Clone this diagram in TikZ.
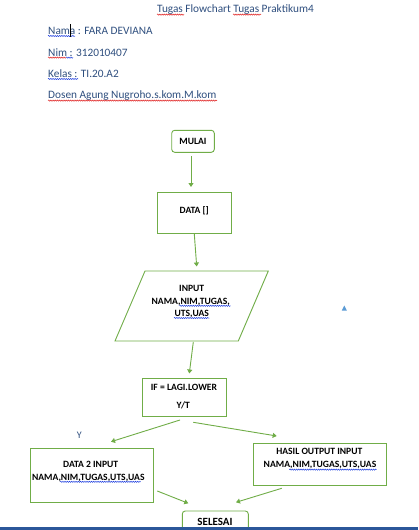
\documentclass[tikz,border=0pt]{standalone}
\usepackage{fontspec}
\setmainfont{Carlito}
\usetikzlibrary{arrows.meta,decorations.pathmorphing}

\definecolor{flowgreen}{HTML}{70AD47}
\definecolor{headblue}{HTML}{2F4F7F}
\definecolor{spellred}{HTML}{E02020}
\definecolor{gramblue}{HTML}{2040E0}
\definecolor{barblue}{HTML}{2B579A}
\definecolor{markblue}{HTML}{5B9BD5}

\tikzset{
  headtext/.style={anchor=base west, inner sep=0pt, text=headblue, font=\fontsize{11.3}{13}\selectfont},
  boxtext/.style={anchor=base, inner sep=0pt, text=black, font=\bfseries\fontsize{9.6}{11}\selectfont},
  flowbox/.style={draw=flowgreen, line width=0.9pt, fill=white, inner sep=0pt},
  termbox/.style={flowbox, rounded corners=3pt},
  flowarrow/.style={draw=flowgreen, line width=0.9pt, -{Triangle[width=5pt,length=4pt]}},
  squiggle/.style={line width=0.5pt, decorate, decoration={snake, segment length=2.2pt, amplitude=0.6pt}},
  redsq/.style={squiggle, draw=spellred},
  bluesq/.style={squiggle, draw=gramblue}
}

\begin{document}
\begin{tikzpicture}[x=1pt,y=-1pt]
\useasboundingbox (0,0) rectangle (418,530);
\fill[white] (0,0) rectangle (418,530);

% heading lines
\node[headtext] (title) at (157,12.8) {Tugas Flowchart Tugas Praktikum4};
\node[headtext] (nama)  at (48,34.4) {Nama : FARA DEVIANA};
\node[headtext] (nim)   at (48,56)   {Nim : 312010407};
\node[headtext] (kelas) at (48,77.2) {Kelas : TI.20.A2};
\node[headtext] (dosen) at (48,98.2) {Dosen Agung Nugroho.s.kom.M.kom};

% proofing underlines
\draw[redsq]  (157,14.6) -- (184,14.6);
\draw[redsq]  (233,14.6) -- (261,14.6);
\draw[bluesq] (48,36) -- (75,36);
\draw[redsq]  (48,57.6) -- (66,57.6);
\draw[bluesq] (66,57.6) -- (73,57.6);
\draw[bluesq] (48,79) -- (78,79);
\draw[redsq]  (48,100.6) -- (217,100.6);

% text cursor
\draw[black, line width=0.6pt] (70,24) -- (70,37);

% flowchart boxes
\node[termbox, minimum width=42.6pt, minimum height=22pt] (mulai) at (193,141.3) {};
\node[boxtext] at (193,144.6) {MULAI};

\node[flowbox, minimum width=74pt, minimum height=41.3pt] (data) at (194.3,212.7) {};
\node[boxtext] at (194.3,213.8) {DATA []};

\coordinate (inTL) at (145,271);
\coordinate (inTR) at (268.3,271);
\coordinate (inBR) at (238.3,341);
\coordinate (inBL) at (115,341);
\draw[flowgreen, line width=0.9pt] (inTL) -- (inTR) -- (inBR) -- (inBL) -- cycle;
\node[boxtext] (input) at (191.7,291) {INPUT};
\node[boxtext] at (190.7,304.4) {NAMA,NIM,TUGAS,};
\node[boxtext] at (191.7,316.6) {UTS,UAS};
\draw[bluesq] (179.3,305.8) -- (230.7,305.8);
\draw[bluesq] (174,318) -- (209.3,318);

\node[flowbox, minimum width=84.4pt, minimum height=38pt] (ifbox) at (184.5,397) {};
\node[boxtext] at (184,390.6) {IF = LAGI.LOWER};
\node[boxtext] at (183.3,408.4) {Y/T};

\node[flowbox, minimum width=122.6pt, minimum height=54pt] (data2) at (92,475.3) {};
\node[boxtext] at (90.7,467.6) {DATA 2 INPUT};
\node[boxtext] at (88.3,480) {NAMA,NIM,TUGAS,UTS,UAS};
\draw[bluesq] (60,481.8) -- (140.7,481.8);

\node[flowbox, minimum width=133.4pt, minimum height=41.7pt] (hasil) at (320,464.2) {};
\node[boxtext] at (319.3,454.4) {HASIL OUTPUT INPUT};
\node[boxtext] at (320,467.6) {NAMA,NIM,TUGAS,UTS,UAS};
\draw[bluesq] (289.3,469.6) -- (376.7,469.6);

\node[termbox, minimum width=66pt, minimum height=30pt] (selesai) at (215.3,526) {};
\node[boxtext, font=\bfseries\fontsize{11}{13}\selectfont] at (215,525.4) {SELESAI};

\node[anchor=base, inner sep=0pt, text=headblue, font=\fontsize{10}{12}\selectfont] (ylabel) at (79.3,438.6) {Y};

% connectors
\coordinate (a1s) at (191,156);   \coordinate (a1e) at (191,187);
\coordinate (a2s) at (194.3,234); \coordinate (a2e) at (196.7,266.5);
\coordinate (a3s) at (193.3,342); \coordinate (a3e) at (189.3,373.5);
\coordinate (a4s) at (180,420);   \coordinate (a4e) at (111,441.7);
\coordinate (a5s) at (193.3,422.3); \coordinate (a5e) at (276.7,436);
\coordinate (a6s) at (157.3,491); \coordinate (a6e) at (188.3,503.3);
\coordinate (a7s) at (281.7,488.3); \coordinate (a7e) at (236,502.3);
\draw[flowarrow] (a1s) -- (a1e);
\draw[flowarrow] (a2s) -- (a2e);
\draw[flowarrow] (a3s) -- (a3e);
\draw[flowarrow] (a4s) -- (a4e);
\draw[flowarrow] (a5s) -- (a5e);
\draw[flowarrow] (a6s) -- (a6e);
\draw[flowarrow] (a7s) -- (a7e);

% anchor marker
\fill[markblue] (341.8,310.5) -- (346.8,310.5) -- (344.3,305.5) -- cycle;

% status bar strip
\fill[barblue] (0,527.3) rectangle (418,530);
\end{tikzpicture}
\end{document}
